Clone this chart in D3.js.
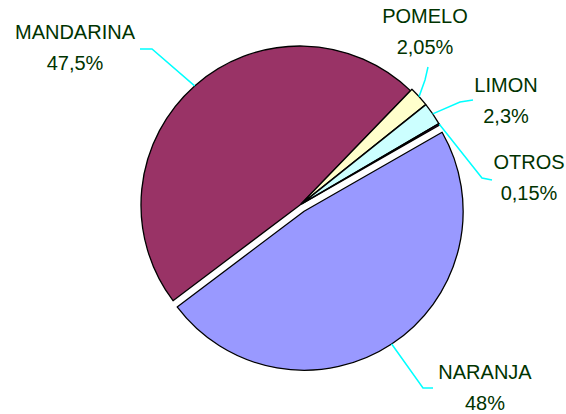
<!DOCTYPE html>
<html>
<head>
<meta charset="utf-8">
<script src="https://cdn.jsdelivr.net/npm/d3@7"></script>
<style>
  html, body { margin: 0; padding: 0; background: #fff; }
  svg { display: block; }
</style>
</head>
<body>
<svg id="chart" width="566" height="414"></svg>
<script>
// ---- data ----
const categories = ["NARANJA", "MANDARINA", "POMELO", "LIMON", "OTROS"];
const values = [48, 47.5, 2.05, 2.3, 0.15];
const valueLabels = ["48%", "47,5%", "2,05%", "2,3%", "0,15%"];

// ---- styling / layout (not data) ----
const colors = ["#9999FF", "#993366", "#FFFFCC", "#CCFFFF", "#660066"];
const explode = [7.5, 0, 2, 2, 2];
const cx = 300, cy = 205, R = 159;
const startDeg = 60.2;
// label layout: x center, first-line baseline, leader elbow & end
const labelLayout = [
  { x: 485, y: 379, elbow: [423, 388], end: [433, 388] },
  { x: 75,  y: 39,  elbow: [152, 49],  end: [140, 49] },
  { x: 425, y: 23,  elbow: [425, 80],  end: [428, 67] },
  { x: 506, y: 92,  elbow: [460, 102], end: [473, 100] },
  { x: 529, y: 169, elbow: [482, 178], end: [492, 180] }
];
const lineGap = 31;

const svg = d3.select("#chart");
const start = startDeg * Math.PI / 180;
const pie = d3.pie().sort(null).value(d => d).startAngle(start).endAngle(start + 2 * Math.PI);
const arcs = pie(values);
const arc = d3.arc().innerRadius(0).outerRadius(R);

const g = svg.append("g");
arcs.forEach((a, i) => {
  const mid = (a.startAngle + a.endAngle) / 2;
  const ox = Math.sin(mid) * explode[i], oy = -Math.cos(mid) * explode[i];
  g.append("path")
    .attr("d", arc(a))
    .attr("transform", `translate(${cx + ox},${cy + oy})`)
    .attr("fill", colors[i])
    .attr("stroke", "#000")
    .attr("stroke-width", 1.3)
    .attr("stroke-linejoin", "round");
});

// leader lines
arcs.forEach((a, i) => {
  const mid = (a.startAngle + a.endAngle) / 2;
  const ox = Math.sin(mid) * explode[i], oy = -Math.cos(mid) * explode[i];
  const p0 = [cx + ox + Math.sin(mid) * R, cy + oy - Math.cos(mid) * R];
  const L = labelLayout[i];
  svg.append("path")
    .attr("d", d3.line()([p0, L.elbow, L.end]))
    .attr("fill", "none")
    .attr("stroke", "#00FFFF")
    .attr("stroke-width", 1.5);
});

// labels
const fontFam = "'Liberation Sans', Arial, sans-serif";
categories.forEach((c, i) => {
  const L = labelLayout[i];
  const t = svg.append("text")
    .attr("text-anchor", "middle")
    .attr("font-family", fontFam)
    .attr("font-size", 20)
    .attr("fill", "#003300");
  t.append("tspan").attr("x", L.x).attr("y", L.y).text(c);
  t.append("tspan").attr("x", L.x).attr("y", L.y + lineGap).text(valueLabels[i]);
});
</script>
</body>
</html>
